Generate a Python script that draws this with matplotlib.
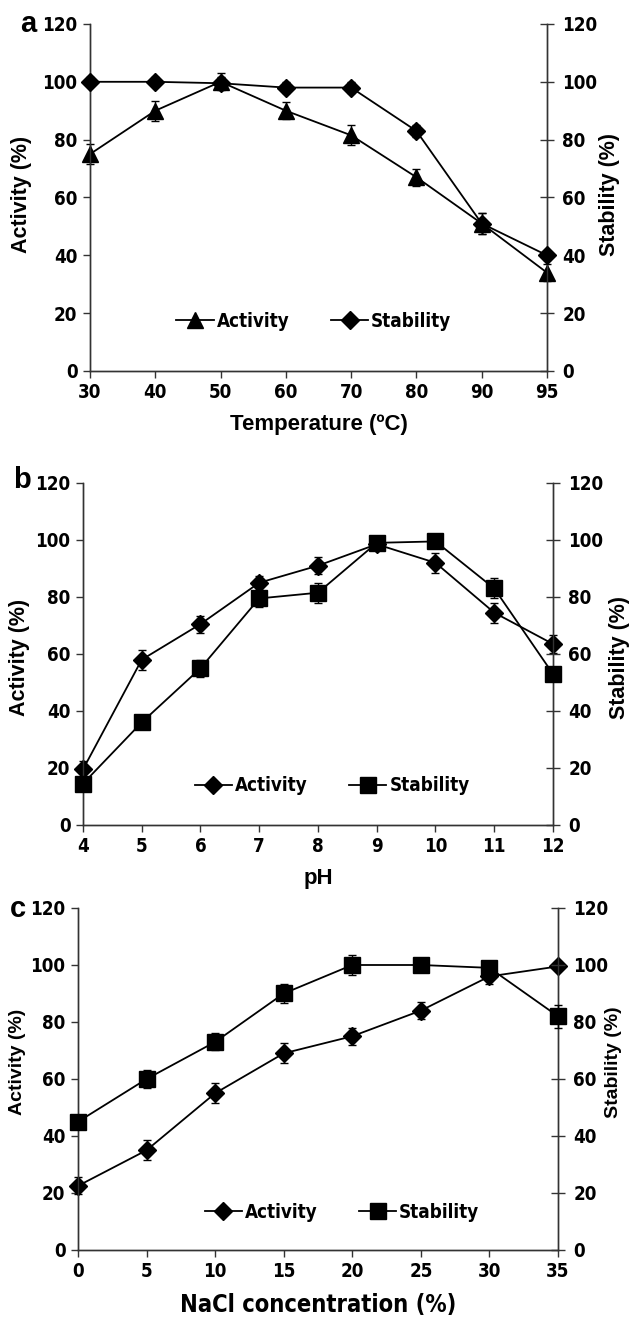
import numpy as np
import matplotlib
matplotlib.use("Agg")
import matplotlib.pyplot as plt
from matplotlib.lines import Line2D

# panel a: temperature
temp = ["30", "40", "50", "60", "70", "80", "90", "95"]
temp_act = [75, 90, 100, 90, 81.5, 67, 51, 34]
temp_act_err = [3.5, 3.5, 3, 3, 3.5, 3, 3.5, 3]
temp_stab = [100, 100, 99.5, 98, 98, 83, 51, 40]
temp_stab_err = [1.5, 1.5, 2, 2, 2, 2, 3.5, 1.5]

# panel b: pH
ph = ["4", "5", "6", "7", "8", "9", "10", "11", "12"]
ph_act = [19.5, 58, 70.5, 85, 91, 98.5, 92, 74.5, 63.5]
ph_act_err = [3, 3.5, 3, 2.5, 3, 2, 3.5, 3.5, 3]
ph_stab = [14.5, 36, 55, 79.5, 81.5, 99, 99.5, 83, 53]
ph_stab_err = [2, 2, 3, 3, 3.5, 2, 2, 3.5, 2]

# panel c: NaCl
nacl = ["0", "5", "10", "15", "20", "25", "30", "35"]
nacl_act = [22.5, 35, 55, 69, 75, 84, 96, 99.5]
nacl_act_err = [3, 3.5, 3.5, 3.5, 3, 3, 2.5, 1]
nacl_stab = [45, 60, 73, 90, 100, 100, 99, 82]
nacl_stab_err = [2.5, 3, 3, 3.5, 3.5, 1.5, 2, 4]

yticks = [0, 20, 40, 60, 80, 100, 120]

NARROW = dict(family="DejaVu Sans", stretch="condensed", weight="bold")
TICKFONT = dict(NARROW, size=13.5)
LABFONT = dict(family=["Liberation Sans", "DejaVu Sans"], weight="bold", size=15.5)

fig = plt.figure(figsize=(6.32, 13.24), dpi=100)


def panel(rect, cats, act, act_err, stab, stab_err, m_act, m_stab, xlabel, xlab_font,
          ylab_font, ylab_pos, letter, letter_pos, leg_pos, ms_act, ms_stab):
    ax = fig.add_axes(rect)
    x = np.arange(len(cats))
    ax.errorbar(x, act, yerr=act_err, color="black", lw=1.3, marker=m_act, ms=ms_act,
                capsize=3, elinewidth=1.0, capthick=1.0, clip_on=False, zorder=3)
    ax2 = ax.twinx()
    ax2.errorbar(x, stab, yerr=stab_err, color="black", lw=1.3, marker=m_stab, ms=ms_stab,
                 capsize=3, elinewidth=1.0, capthick=1.0, clip_on=False, zorder=3)
    for a in (ax, ax2):
        a.set_ylim(0, 120)
        a.set_yticks(yticks)
        a.set_xlim(0, len(cats) - 1)
        a.spines["top"].set_visible(False)
        for s in ("left", "right", "bottom"):
            a.spines[s].set_color("#333333")
            a.spines[s].set_linewidth(1.0)
    ax.set_xticks(x)
    ax.set_xticklabels(cats, fontdict=TICKFONT)
    ax.set_yticklabels([str(v) for v in yticks], fontdict=TICKFONT)
    ax2.set_yticklabels([str(v) for v in yticks], fontdict=TICKFONT)
    ax.tick_params(axis="both", direction="out", length=5, width=1.0, color="#333333", pad=4)
    ax2.tick_params(axis="y", direction="inout", length=10, width=1.0, color="#333333", pad=6)
    ax.set_ylabel("Activity (%)", fontdict=ylab_font)
    ax2.set_ylabel("Stability (%)", fontdict=ylab_font)
    ax.yaxis.set_label_coords(ylab_pos[0], ylab_pos[2])
    ax2.yaxis.set_label_coords(ylab_pos[1], ylab_pos[2])
    ax.set_xlabel(xlabel, fontdict=xlab_font, labelpad=8)
    handles = [Line2D([], [], color="black", lw=1.3, marker=m_act, ms=ms_act),
               Line2D([], [], color="black", lw=1.3, marker=m_stab, ms=ms_stab)]
    ax2.legend(handles, ["Activity", "Stability"], loc="center", bbox_to_anchor=leg_pos,
               ncol=2, frameon=False, handlelength=2.0, handletextpad=0.15,
               columnspacing=2.2, prop=dict(NARROW, size=13.5))
    fig.text(letter_pos[0], letter_pos[1], letter, fontsize=21, fontweight="bold",
             family=["Liberation Sans", "DejaVu Sans"], ha="center", va="center")
    return ax


panel([0.1424, 0.7198, 0.7231, 0.2621], temp, temp_act, temp_act_err, temp_stab, temp_stab_err,
      "^", "D", "Temperature (\u00baC)", dict(LABFONT, size=16), LABFONT, (-0.127, 1.114, 0.51),
      "a", (0.045, 0.982), (0.49, 0.144), 11, 9)
panel([0.1313, 0.3769, 0.7437, 0.2583], ph, ph_act, ph_act_err, ph_stab, ph_stab_err,
      "D", "s", "pH", dict(LABFONT, size=16), LABFONT, (-0.113, 1.119, 0.49),
      "b", (0.034, 0.6375), (0.53, 0.114), 9, 12)
panel([0.1234, 0.0559, 0.7595, 0.2583], nacl, nacl_act, nacl_act_err, nacl_stab, nacl_stab_err,
      "D", "s", "NaCl concentration (%)", dict(NARROW, size=17), dict(LABFONT, size=14),
      (-0.108, 1.098, 0.55), "c", (0.029, 0.3134), (0.55, 0.111), 9, 12)

fig.savefig("out.png", dpi=100)
